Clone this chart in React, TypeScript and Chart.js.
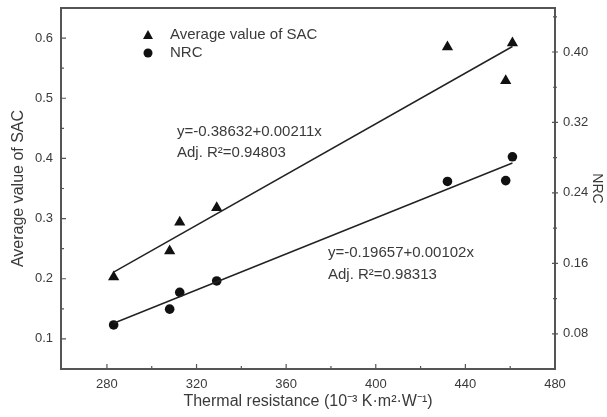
import React, { useEffect, useRef } from "react";
import { Chart, registerables } from "chart.js";

Chart.register(...registerables);

const thermalX = [283, 308, 312.5, 329, 432, 458, 461];
const sacValues = [0.203, 0.246, 0.294, 0.318, 0.585, 0.529, 0.592];
const nrcValues = [0.09, 0.108, 0.127, 0.14, 0.253, 0.254, 0.281];

const fitX = [283, 461];
const sacFit = [0.211, 0.586];
const nrcFit = [0.092, 0.274];

const xTicks = [280, 320, 360, 400, 440, 480];
const xMinor = [300, 340, 380, 420, 460];
const yTicks = [0.1, 0.2, 0.3, 0.4, 0.5, 0.6];
const yMinor = [0.15, 0.25, 0.35, 0.45, 0.55];
const y1Ticks = [0.08, 0.16, 0.24, 0.32, 0.4];
const y1Minor = [0.12, 0.2, 0.28, 0.36, 0.44];

const legendLabels = ["Average value of SAC", "NRC"];
const sacEquation = ["y=-0.38632+0.00211x", "Adj. R\u00B2=0.94803"];
const nrcEquation = ["y=-0.19657+0.00102x", "Adj. R\u00B2=0.98313"];

const FONT = "'Liberation Sans', Arial, sans-serif";
const TEXT = "#3a3a3a";
const FRAME = "#555555";

const overlay = {
  id: "overlay",
  afterDatasetsDraw(chart: any) {
    const ctx = chart.ctx;
    const { left, right, top, bottom } = chart.chartArea;
    const xs = chart.scales.x;
    const ys = chart.scales.y;
    const y1s = chart.scales.y1;
    ctx.save();
    ctx.strokeStyle = FRAME;
    ctx.lineWidth = 2;
    ctx.strokeRect(left, top, right - left, bottom - top);
    ctx.lineWidth = 1.2;
    ctx.beginPath();
    xTicks.forEach((v) => {
      const p = xs.getPixelForValue(v);
      ctx.moveTo(p, bottom);
      ctx.lineTo(p, bottom - 5);
    });
    xMinor.forEach((v) => {
      const p = xs.getPixelForValue(v);
      ctx.moveTo(p, bottom);
      ctx.lineTo(p, bottom - 3);
    });
    yTicks.forEach((v) => {
      const p = ys.getPixelForValue(v);
      ctx.moveTo(left, p);
      ctx.lineTo(left + 5, p);
    });
    yMinor.forEach((v) => {
      const p = ys.getPixelForValue(v);
      ctx.moveTo(left, p);
      ctx.lineTo(left + 3, p);
    });
    y1Ticks.forEach((v) => {
      const p = y1s.getPixelForValue(v);
      ctx.moveTo(right - 3, p);
      ctx.lineTo(right + 3, p);
    });
    y1Minor.forEach((v) => {
      const p = y1s.getPixelForValue(v);
      ctx.moveTo(right - 2, p);
      ctx.lineTo(right + 2, p);
    });
    ctx.stroke();

    ctx.fillStyle = "#111";
    const lx = 148;
    const ly1 = 35;
    const ly2 = 53;
    ctx.beginPath();
    ctx.moveTo(lx, ly1 - 5);
    ctx.lineTo(lx + 5, ly1 + 4);
    ctx.lineTo(lx - 5, ly1 + 4);
    ctx.closePath();
    ctx.fill();
    ctx.beginPath();
    ctx.arc(lx, ly2, 4.5, 0, Math.PI * 2);
    ctx.fill();
    ctx.fillStyle = TEXT;
    ctx.font = `15px ${FONT}`;
    ctx.textBaseline = "middle";
    ctx.textAlign = "left";
    ctx.fillText(legendLabels[0], 170, ly1);
    ctx.fillText(legendLabels[1], 170, ly2);

    ctx.fillText(sacEquation[0], 177, 132);
    ctx.fillText(sacEquation[1], 177, 153);
    ctx.fillText(nrcEquation[0], 328, 253);
    ctx.fillText(nrcEquation[1], 328, 275);
    ctx.restore();
  },
};

export default function App() {
  const ref = useRef<HTMLCanvasElement>(null);
  useEffect(() => {
    if (!ref.current) return;
    const chart = new Chart(ref.current, {
      type: "scatter",
      data: {
        datasets: [
          {
            type: "line",
            data: fitX.map((x, i) => ({ x, y: sacFit[i] })),
            yAxisID: "y",
            borderColor: "#222",
            borderWidth: 1.5,
            pointRadius: 0,
            showLine: true,
          } as any,
          {
            type: "line",
            data: fitX.map((x, i) => ({ x, y: nrcFit[i] })),
            yAxisID: "y1",
            borderColor: "#222",
            borderWidth: 1.5,
            pointRadius: 0,
            showLine: true,
          } as any,
          {
            data: thermalX.map((x, i) => ({ x, y: sacValues[i] })),
            yAxisID: "y",
            pointStyle: "triangle",
            pointRadius: 6.5,
            backgroundColor: "#111",
            borderColor: "#111",
            borderWidth: 0,
          },
          {
            data: thermalX.map((x, i) => ({ x, y: nrcValues[i] })),
            yAxisID: "y1",
            pointStyle: "circle",
            pointRadius: 4.8,
            backgroundColor: "#111",
            borderColor: "#111",
            borderWidth: 0,
          },
        ],
      },
      options: {
        animation: false,
        responsive: false,
        maintainAspectRatio: false,
        layout: { padding: { top: 8, left: 0, right: 0, bottom: 0 } },
        plugins: { legend: { display: false }, tooltip: { enabled: false } },
        scales: {
          x: {
            type: "linear",
            min: 259.5,
            max: 480,
            grid: { display: false, drawTicks: false },
            border: { display: false },
            afterBuildTicks: (s: any) => {
              s.ticks = xTicks.map((v) => ({ value: v }));
            },
            afterFit: (s: any) => {
              s.height = 48;
              s.paddingLeft = 0;
              s.paddingRight = 0;
            },
            ticks: {
              padding: 8,
              color: TEXT,
              font: { family: FONT, size: 13 },
              maxRotation: 0,
              callback: (v: any) => String(v),
            },
            title: {
              display: true,
              text: "Thermal resistance (10\u207B\u00B3 K\u00B7m\u00B2\u00B7W\u207B\u00B9)",
              color: TEXT,
              font: { family: FONT, size: 16 },
              padding: { top: 0, bottom: 6 },
            },
          },
          y: {
            type: "linear",
            position: "left",
            min: 0.05,
            max: 0.65,
            grid: { display: false, drawTicks: false },
            border: { display: false },
            afterBuildTicks: (s: any) => {
              s.ticks = yTicks.map((v) => ({ value: v }));
            },
            afterFit: (s: any) => {
              s.width = 61;
              s.paddingTop = 0;
              s.paddingBottom = 0;
            },
            ticks: {
              padding: 8,
              color: TEXT,
              font: { family: FONT, size: 13 },
              callback: (v: any) => Number(v).toFixed(1),
            },
            title: {
              display: true,
              text: "Average value of SAC",
              color: TEXT,
              font: { family: FONT, size: 16 },
              padding: { top: 9, bottom: 0 },
            },
          },
          y1: {
            type: "linear",
            position: "right",
            min: 0.04,
            max: 0.45,
            grid: { display: false, drawTicks: false },
            border: { display: false },
            afterBuildTicks: (s: any) => {
              s.ticks = y1Ticks.map((v) => ({ value: v }));
            },
            afterFit: (s: any) => {
              s.width = 52;
              s.paddingTop = 0;
              s.paddingBottom = 0;
            },
            ticks: {
              padding: 8,
              color: TEXT,
              font: { family: FONT, size: 13 },
              callback: (v: any) => Number(v).toFixed(2),
            },
            title: {
              display: true,
              text: "NRC",
              color: TEXT,
              font: { family: FONT, size: 14 },
              padding: { top: 2, bottom: 0 },
            },
          },
        },
      },
      plugins: [overlay],
    });
    return () => chart.destroy();
  }, []);
  return (
    <div style={{ position: "fixed", left: 0, top: 0, width: 607, height: 417, background: "#fff" }}>
      <canvas ref={ref} width={607} height={417} style={{ width: 607, height: 417 }} />
    </div>
  );
}
